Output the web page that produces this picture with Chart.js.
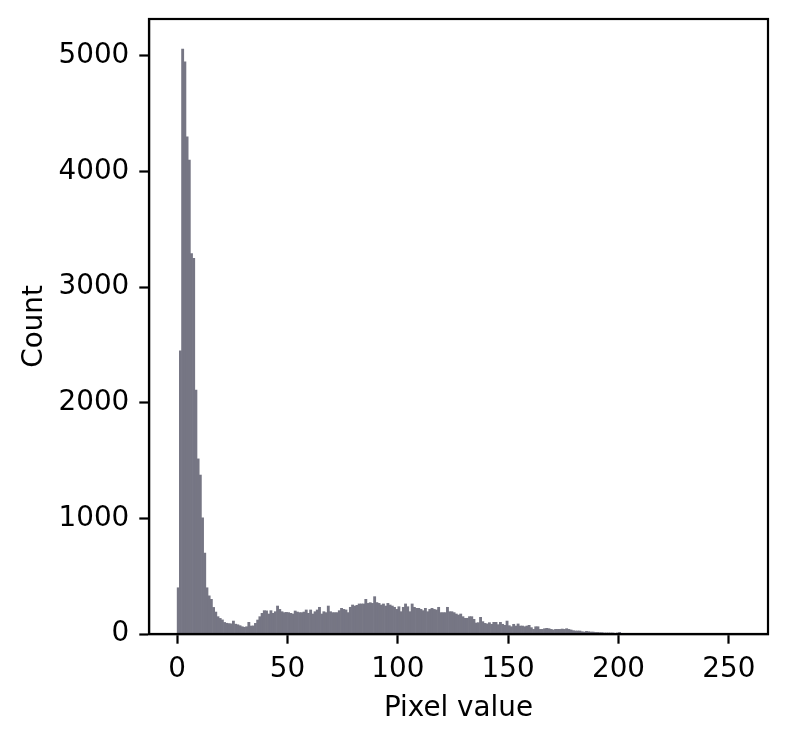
<!DOCTYPE html>
<html>
<head>
<meta charset="utf-8">
<script src="https://cdn.jsdelivr.net/npm/chart.js@4"></script>
<style>
  html, body { margin: 0; padding: 0; background: #ffffff; }
  canvas { display: block; }
</style>
</head>
<body>
<canvas id="histChart" width="789" height="742"></canvas>
<script>
// histogram counts, one per pixel value bin starting at 0 (bins past 200 are empty)
const counts = [
  400, 2450, 5060, 4950, 4300, 4100, 3290, 3250, 2110, 1515,
  1375, 1005, 700, 400, 330, 300, 230, 190, 150, 135,
  122, 100, 93, 90, 88, 112, 85, 80, 72, 63,
  58, 63, 101, 69, 70, 92, 121, 150, 179, 202,
  200, 173, 202, 179, 193, 242, 213, 193, 185, 187,
  185, 179, 173, 199, 190, 185, 185, 190, 208, 179,
  208, 173, 193, 208, 231, 173, 193, 185, 242, 193,
  185, 185, 185, 202, 222, 213, 208, 185, 231, 251,
  242, 248, 260, 260, 260, 300, 265, 271, 265, 323,
  272, 265, 251, 260, 242, 265, 251, 242, 231, 213,
  236, 193, 231, 260, 236, 193, 260, 231, 222, 222,
  213, 202, 222, 193, 213, 222, 213, 208, 231, 185,
  185, 185, 231, 193, 193, 185, 173, 164, 173, 150,
  136, 136, 150, 150, 127, 95, 98, 144, 107, 92,
  87, 98, 84, 101, 101, 81, 101, 84, 75, 112,
  72, 63, 84, 69, 87, 69, 69, 63, 69, 75,
  55, 40, 63, 63, 40, 40, 46, 49, 46, 40,
  35, 40, 40, 40, 43, 40, 46, 40, 35, 29,
  26, 26, 26, 20, 17, 23, 20, 17, 17, 14,
  14, 12, 12, 9, 9, 9, 9, 9, 6, 9,
  14
];
const xTicks = [0, 50, 100, 150, 200, 250];
const yTicks = [0, 1000, 2000, 3000, 4000, 5000];
const xLabel = 'Pixel value';
const yLabel = 'Count';

const font = { family: 'DejaVu Sans', size: 27.8 };
const barColor = '#767684';

// draws the top/right spines so the plot area is boxed like matplotlib
const frame = {
  id: 'frame',
  afterDraw(chart) {
    const { ctx, chartArea: a } = chart;
    ctx.save();
    ctx.strokeStyle = '#000';
    ctx.lineWidth = 2.2;
    ctx.strokeRect(a.left, a.top, a.right - a.left, a.bottom - a.top);
    ctx.restore();
  }
};

const points = counts.map((c, i) => ({ x: i + 0.5, y: c }));

new Chart(document.getElementById('histChart').getContext('2d'), {
  type: 'bar',
  data: {
    datasets: [{
      data: points,
      backgroundColor: barColor,
      borderColor: barColor,
      borderWidth: 0,
      barPercentage: 1,
      categoryPercentage: 1
    }]
  },
  options: {
    responsive: false,
    animation: false,
    devicePixelRatio: 1,
    layout: { padding: { left: 0, right: 21, top: 19, bottom: 0 } },
    plugins: { legend: { display: false }, tooltip: { enabled: false } },
    scales: {
      x: {
        type: 'linear',
        offset: false,
        min: -12.75,
        max: 267.75,
        afterBuildTicks: s => { s.ticks = xTicks.map(v => ({ value: v })); },
        afterFit: s => { s.height = 108; s.paddingLeft = 0; s.paddingRight = 0; },
        ticks: { color: '#000', font: font, padding: 9, maxRotation: 0, callback: v => String(v) },
        grid: { offset: false, drawOnChartArea: false, drawTicks: true, tickLength: 9.7, tickWidth: 2.2, tickColor: '#000' },
        border: { display: true, color: '#000', width: 2.2 },
        title: { display: true, text: xLabel, color: '#000', font: font, padding: { top: 0, bottom: 17 } }
      },
      y: {
        min: 0,
        max: 5320,
        afterBuildTicks: s => { s.ticks = yTicks.map(v => ({ value: v })); },
        afterFit: s => { s.width = 149; s.paddingTop = 0; s.paddingBottom = 0; },
        ticks: { color: '#000', font: font, padding: 10, callback: v => String(v) },
        grid: { drawOnChartArea: false, drawTicks: true, tickLength: 9.7, tickWidth: 2.2, tickColor: '#000' },
        border: { display: true, color: '#000', width: 2.2 },
        title: { display: true, text: yLabel, color: '#000', font: font, padding: { top: 18, bottom: 0 } }
      }
    }
  },
  plugins: [frame]
});
</script>
</body>
</html>
